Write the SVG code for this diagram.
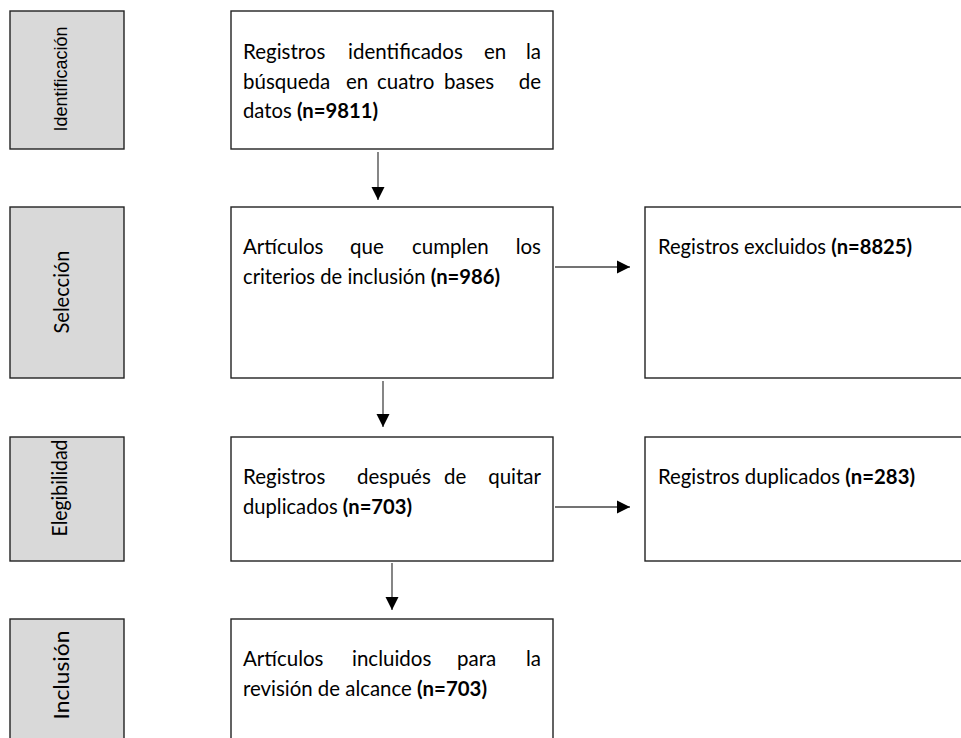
<svg xmlns="http://www.w3.org/2000/svg" width="961" height="738" viewBox="0 0 961 738">
<defs>
<marker id="ah" markerUnits="userSpaceOnUse" markerWidth="14" markerHeight="14" refX="13" refY="7" orient="auto">
<path d="M0,0.5 L13,7 L0,13.5 Z" fill="#000"/>
</marker>
<style>
.stage{fill:#d9d9d9;stroke:#222;stroke-width:1.4}
.box{fill:#fff;stroke:#222;stroke-width:1.4}
.t{font-family:Lato,"Open Sans","Liberation Sans",sans-serif;font-size:20.5px;fill:#000}
.b{font-weight:bold}
.lab{font-family:Lato,"Open Sans","Liberation Sans",sans-serif;font-size:21px;fill:#000;text-anchor:middle}
.lab2{font-family:"Liberation Sans",Arial,sans-serif;font-size:18px;fill:#000;text-anchor:middle}
.c{stroke:#444;stroke-width:1.3;fill:none;marker-end:url(#ah)}
</style>
</defs>
<rect width="961" height="738" fill="#fff"/>

<g id="stage-identificacion">
<rect class="stage" x="10" y="11" width="114" height="138"/>
<text class="lab2" transform="translate(67,79) rotate(-90)" textLength="105" lengthAdjust="spacingAndGlyphs">Identificación</text>
</g>
<g id="stage-seleccion">
<rect class="stage" x="10" y="207" width="114" height="171"/>
<text class="lab" transform="translate(69,292) rotate(-90)" textLength="83" lengthAdjust="spacingAndGlyphs">Selección</text>
</g>
<g id="stage-elegibilidad">
<rect class="stage" x="10" y="437" width="114" height="124"/>
<text class="lab" transform="translate(67,488) rotate(-90)" textLength="97" lengthAdjust="spacingAndGlyphs">Elegibilidad</text>
</g>
<g id="stage-inclusion">
<rect class="stage" x="10" y="619" width="114" height="130"/>
<text class="lab" transform="translate(69,675) rotate(-90)" textLength="89" lengthAdjust="spacingAndGlyphs">Inclusión</text>
</g>

<g id="n1">
<rect class="box" x="231" y="11" width="322" height="138"/>
<text class="t" y="59"><tspan x="243">Registros</tspan><tspan x="348">identificados</tspan><tspan x="484">en</tspan><tspan x="541" text-anchor="end">la</tspan></text>
<text class="t" y="89"><tspan x="243">búsqueda</tspan><tspan x="346">en</tspan><tspan x="377">cuatro</tspan><tspan x="444">bases</tspan><tspan x="541" text-anchor="end">de</tspan></text>
<text class="t" x="243" y="118" textLength="135" lengthAdjust="spacingAndGlyphs">datos <tspan class="b">(n=9811)</tspan></text>
</g>

<g id="n2">
<rect class="box" x="231" y="207" width="322" height="171"/>
<text class="t" y="254"><tspan x="243">Artículos</tspan><tspan x="350">que</tspan><tspan x="412">cumplen</tspan><tspan x="541" text-anchor="end">los</tspan></text>
<text class="t" x="243" y="284" textLength="257" lengthAdjust="spacingAndGlyphs">criterios de inclusión <tspan class="b">(n=986)</tspan></text>
</g>

<g id="n3">
<rect class="box" x="231" y="437" width="322" height="124"/>
<text class="t" y="484"><tspan x="243">Registros</tspan><tspan x="357">después</tspan><tspan x="444">de</tspan><tspan x="541" text-anchor="end">quitar</tspan></text>
<text class="t" x="243" y="514" textLength="169" lengthAdjust="spacingAndGlyphs">duplicados <tspan class="b">(n=703)</tspan></text>
</g>

<g id="n4">
<rect class="box" x="231" y="619" width="322" height="130"/>
<text class="t" y="666"><tspan x="243">Artículos</tspan><tspan x="352">incluidos</tspan><tspan x="457">para</tspan><tspan x="541" text-anchor="end">la</tspan></text>
<text class="t" x="243" y="696" textLength="244" lengthAdjust="spacingAndGlyphs">revisión de alcance <tspan class="b">(n=703)</tspan></text>
</g>

<g id="n5">
<rect class="box" x="645" y="207" width="330" height="171"/>
<text class="t" x="658" y="254" textLength="254" lengthAdjust="spacingAndGlyphs">Registros excluidos <tspan class="b">(n=8825)</tspan></text>
</g>

<g id="n6">
<rect class="box" x="645" y="437" width="330" height="124"/>
<text class="t" x="658" y="484" textLength="257" lengthAdjust="spacingAndGlyphs">Registros duplicados <tspan class="b">(n=283)</tspan></text>
</g>

<g id="connectors">
<line class="c" x1="378" y1="152" x2="378" y2="200"/>
<line class="c" x1="383" y1="381" x2="383" y2="427"/>
<line class="c" x1="392" y1="563" x2="392" y2="610"/>
<line class="c" x1="555" y1="267" x2="630" y2="267"/>
<line class="c" x1="555" y1="507" x2="630" y2="507"/>
</g>
</svg>
